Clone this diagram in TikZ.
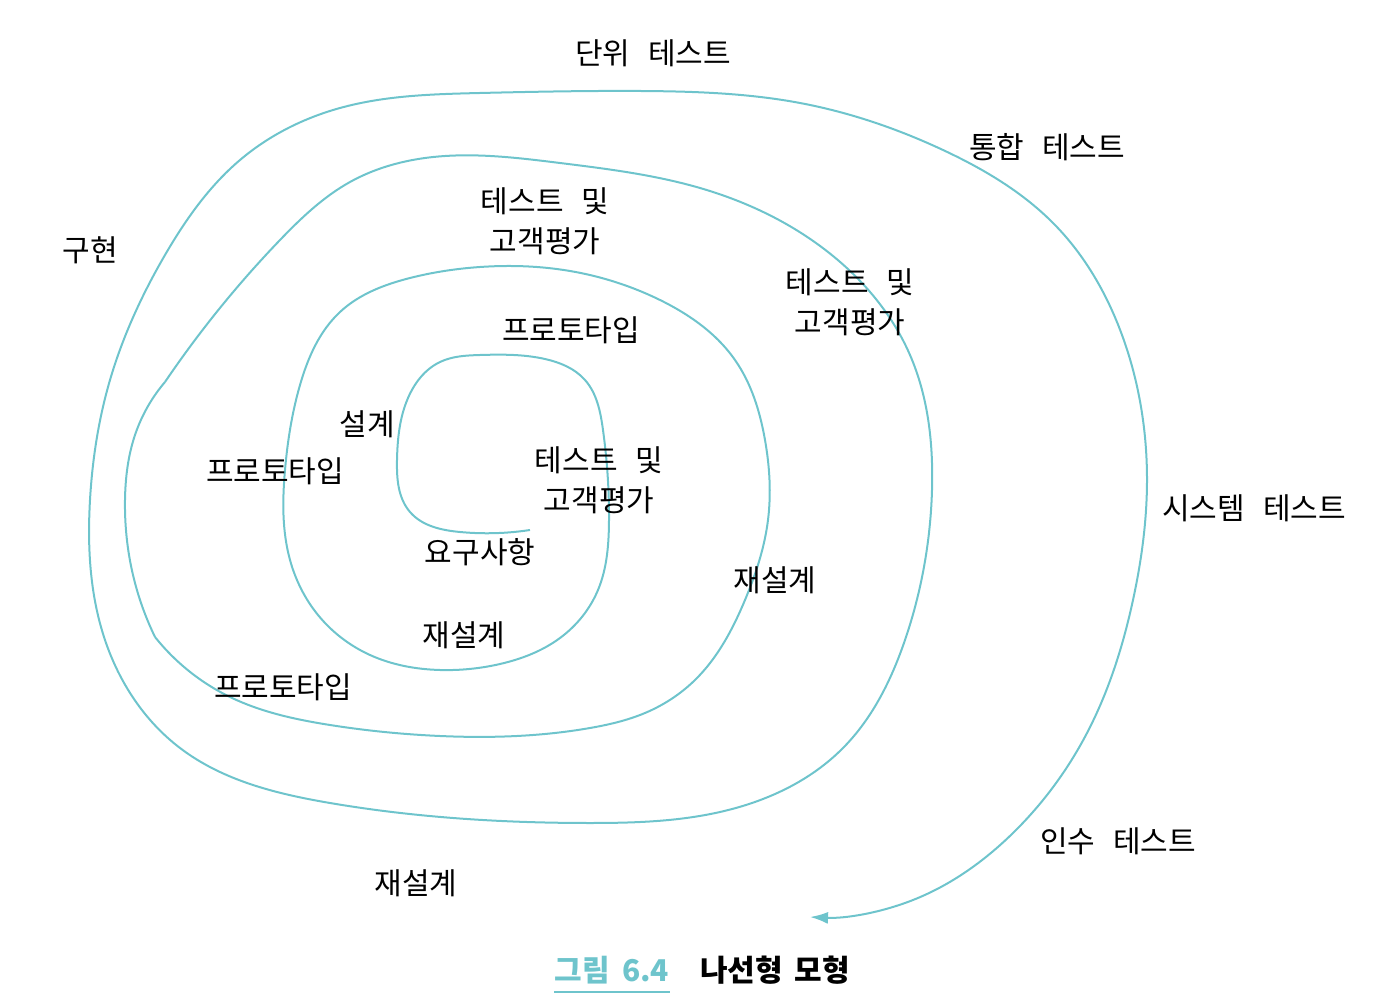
\documentclass[tikz,border=0pt]{standalone}
\usepackage{fontspec}
\setmainfont{Noto Sans CJK KR}
\usetikzlibrary{arrows.meta,hobby}
\definecolor{teal1}{RGB}{110,196,204}
\begin{document}
\begin{tikzpicture}[x=0.5pt,y=-0.5pt,
  lbl/.style={font=\fontsize{15}{20}\selectfont, inner sep=0pt, align=center},
  spiral/.style={draw=teal1, line width=1pt, use Hobby shortcut}]
\useasboundingbox (0,0) rectangle (1386,999);
\draw[spiral] (530,530) .. (460,532) .. (410,512) .. (397,460) .. (408,398) .. (440,362) .. (480,355) .. (545,359) .. (585,380) .. (603,430) .. (609,520) .. (598,590) .. (560,638) .. (500,664) .. (440,670) .. (370,655) .. (318,615) .. (290,560) .. (285,470) .. (300,385) .. (340,312) .. (410,278) .. (480,267) .. (570,271) .. (660,300) .. (735,360) .. (765,440) .. (768,520) .. (745,600) .. (695,680) .. (645,713) .. (590,728) .. (440,736) .. (330,725) .. (230,697) .. (155,637);
\draw[spiral] (155,637) .. (133,575) .. (125,500) .. (135,435) .. (165,382);
\draw[spiral, -{Latex[length=9pt,width=6pt]}] (165,382) .. (280,240) .. (350,182) .. (425,158) .. (560,163) .. (700,188) .. (833,256) .. (910,355) .. (932,490) .. (905,640) .. (843,748) .. (720,812) .. (590,823) .. (330,803) .. (180,748) .. (105,640) .. (90,500) .. (110,380) .. (165,255) .. (240,160) .. (340,108) .. (480,93) .. (640,91) .. (800,103) .. (943,150) .. (1055,225) .. (1122,335) .. (1147,480) .. (1133,600) .. (1087,733) .. (1013,833) .. (913,900) .. (810,917);

\node[lbl] (ut) at (653,53) {단위\hspace{0.6em}테스트};
\node[lbl] (it) at (1047,147) {통합\hspace{0.6em}테스트};
\node[lbl] (impl) at (90,250) {구현};
\node[lbl] (te1) at (545,221) {테스트\hspace{0.6em}및\\고객평가};
\node[lbl] (te2) at (850,302) {테스트\hspace{0.6em}및\\고객평가};
\node[lbl] (pt1) at (571,330) {프로토타입};
\node[lbl] (ds) at (367,424) {설계};
\node[lbl] (pt2) at (275,471) {프로토타입};
\node[lbl] (te3) at (599,480) {테스트\hspace{0.6em}및\\고객평가};
\node[lbl] (st) at (1254,508) {시스템\hspace{0.6em}테스트};
\node[lbl] (req) at (480,552) {요구사항};
\node[lbl] (rd1) at (775,580) {재설계};
\node[lbl] (rd2) at (464,635) {재설계};
\node[lbl] (pt3) at (283,687) {프로토타입};
\node[lbl] (at) at (1118,841) {인수\hspace{0.6em}테스트};
\node[lbl] (rd3) at (416,883) {재설계};
\node[lbl, font=\fontsize{15}{20}\selectfont\bfseries, text=teal1] (cap1) at (612,970) {그림\hspace{0.4em}6.4};
\draw[teal1, line width=1pt] ([yshift=-4pt]cap1.south west) -- ([yshift=-4pt]cap1.south east);
\node[lbl, font=\fontsize{15}{20}\selectfont\bfseries] (cap2) at (775,970) {나선형\hspace{0.4em}모형};
\end{tikzpicture}
\end{document}
